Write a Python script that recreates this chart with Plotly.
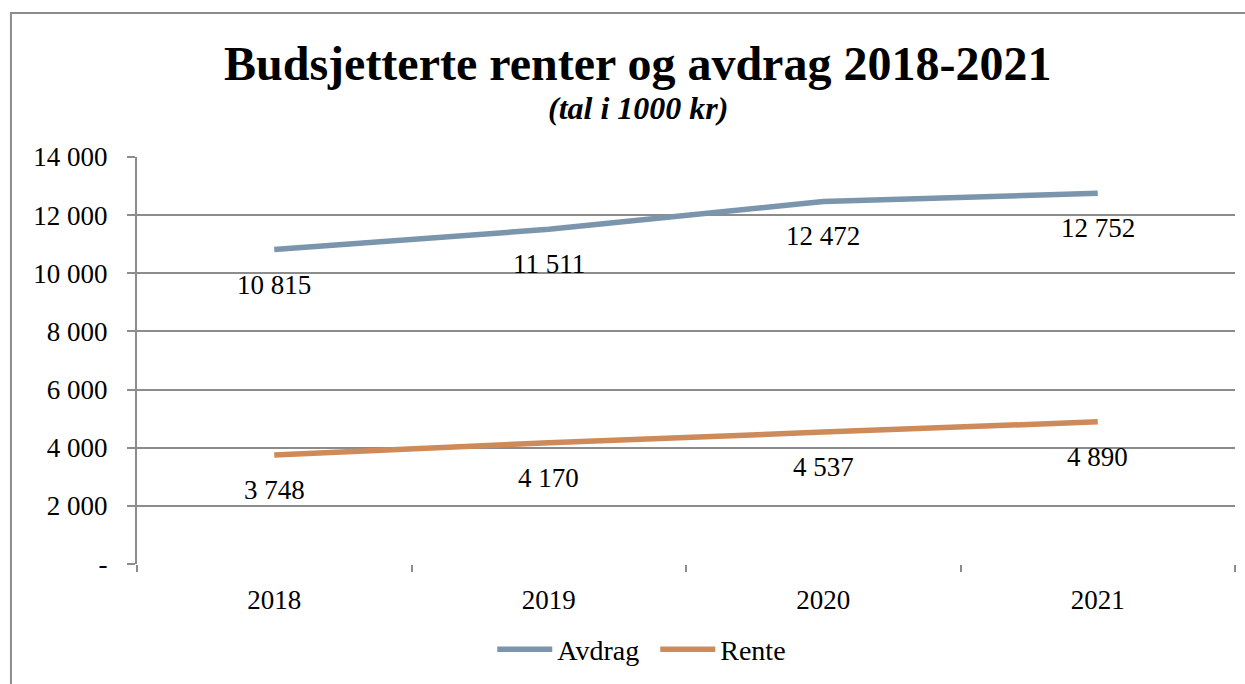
import plotly.graph_objects as go

years = ["2018", "2019", "2020", "2021"]
avdrag = [10815, 11511, 12472, 12752]
rente = [3748, 4170, 4537, 4890]
y_ticks = [0, 2000, 4000, 6000, 8000, 10000, 12000, 14000]
y_ticktext = ["-", "2 000", "4 000", "6 000", "8 000", "10 000", "12 000", "14 000"]

def fmt(v):
    return f"{v:,}".replace(",", " ")

FONT = "'Liberation Serif', 'Times New Roman', serif"
GRID = "#8c8c8c"

fig = go.Figure()
fig.add_trace(go.Scatter(x=years, y=avdrag, name="Avdrag", mode="lines",
                         line=dict(color="#7b95ad", width=5.5)))
fig.add_trace(go.Scatter(x=years, y=rente, name="Rente", mode="lines",
                         line=dict(color="#cf8a59", width=5.5)))

annotations = []
for series in (avdrag, rente):
    for i, v in enumerate(series):
        annotations.append(dict(x=i, y=v, xref="x", yref="y", text=fmt(v),
                                showarrow=False, yshift=-35,
                                xanchor="center", yanchor="middle",
                                font=dict(family=FONT, size=27, color="black")))

annotations.append(dict(x=0.456, y=1.229, xref="paper", yref="paper",
                        xanchor="center", yanchor="middle",
                        text="<b>Budsjetterte renter og avdrag 2018-2021</b>",
                        showarrow=False, font=dict(family=FONT, size=48, color="black")))
annotations.append(dict(x=0.456, y=1.12, xref="paper", yref="paper",
                        xanchor="center", yanchor="middle",
                        text="<b><i>(tal i 1000 kr)</i></b>",
                        showarrow=False, font=dict(family=FONT, size=32, color="black")))

fig.update_layout(
    width=1245, height=684,
    margin=dict(l=137, r=10, t=157, b=118),
    paper_bgcolor="white", plot_bgcolor="white",
    font=dict(family=FONT, size=27, color="black"),
    showlegend=True,
    legend=dict(orientation="h", x=0.472, xanchor="center", y=-0.21, yanchor="middle",
                font=dict(family=FONT, size=28, color="black"), itemwidth=55,
                entrywidth=93, entrywidthmode="pixels", tracegroupgap=0),
    annotations=annotations,
    shapes=[dict(type="rect", xref="paper", yref="paper",
                 x0=-0.1148, y0=-0.35, x1=1.05, y1=1.3537,
                 line=dict(color="#8c8c8c", width=2), fillcolor="rgba(0,0,0,0)", layer="below")],
)
fig.update_xaxes(type="category", range=[-0.5, 3.5], tickson="boundaries",
                 ticks="outside", ticklen=7, tickcolor=GRID, tickwidth=2,
                 showgrid=False, showline=False, zeroline=False, ticklabelstandoff=17,
                 tickfont=dict(family=FONT, size=27, color="black"))
fig.update_yaxes(range=[0, 14000], tickvals=y_ticks, ticktext=y_ticktext,
                 ticks="outside", ticklen=8, tickcolor=GRID, tickwidth=2,
                 showgrid=True, gridcolor=GRID, gridwidth=2,
                 showline=True, linecolor=GRID, linewidth=2, zeroline=False,
                 ticklabelstandoff=14,
                 tickfont=dict(family=FONT, size=27, color="black"))

fig.write_html("out.html", config={"displayModeBar": False},
               post_script="document.body.style.margin='0';document.body.style.overflow='hidden';")
